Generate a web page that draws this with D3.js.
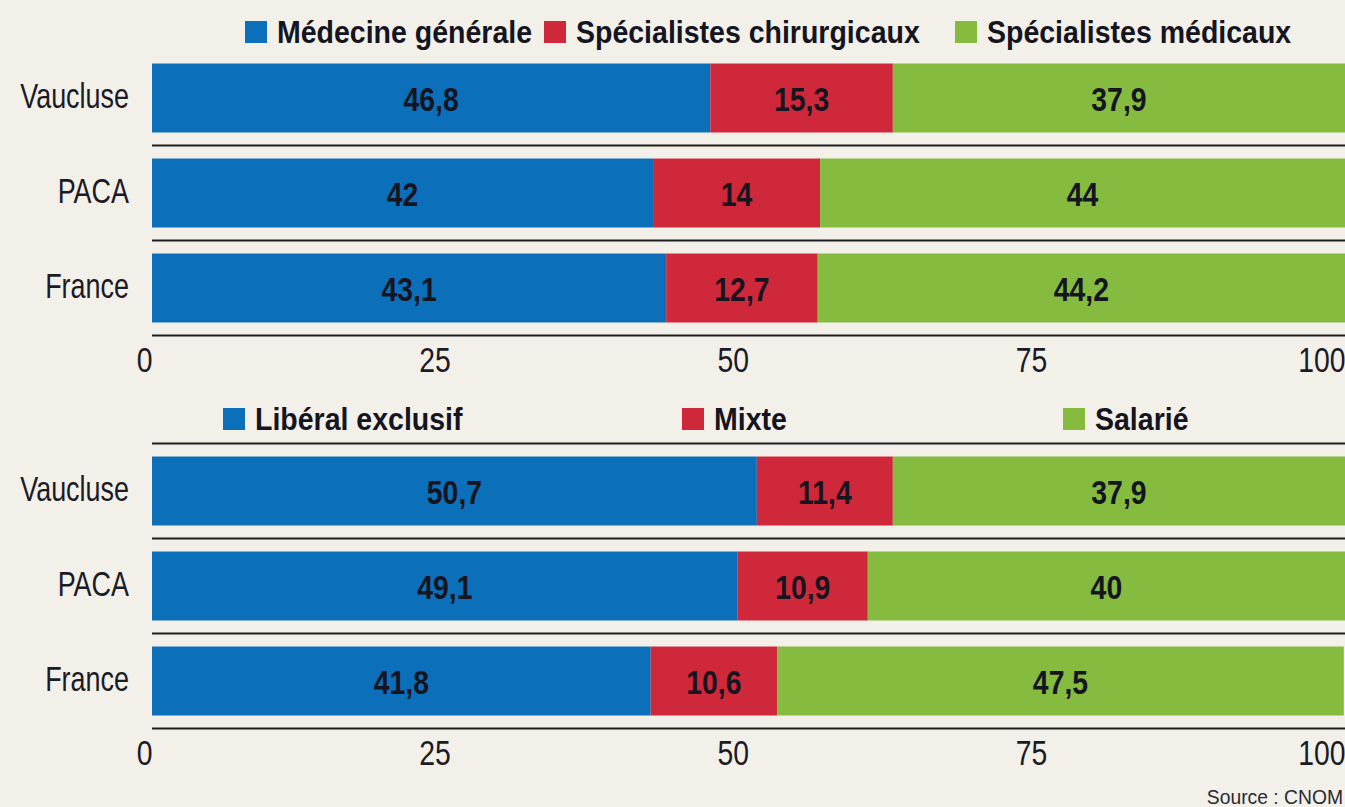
<!DOCTYPE html>
<html>
<head>
<meta charset="utf-8">
<script src="https://cdn.jsdelivr.net/npm/d3@7"></script>
<style>
  body { margin: 0; background: #f3efe9; }
  svg { display: block; font-family: "Liberation Sans", Arial, sans-serif; }
</style>
</head>
<body>
<div id="chart"></div>
<script>
// data
const places = ["Vaucluse", "PACA", "France"];

const specialties = ["Médecine générale", "Spécialistes chirurgicaux", "Spécialistes médicaux"];
const generalistes = [46.8, 42, 43.1];
const chirurgicaux = [15.3, 14, 12.7];
const medicaux = [37.9, 44, 44.2];

const modes = ["Libéral exclusif", "Mixte", "Salarié"];
const liberal = [50.7, 49.1, 41.8];
const mixte = [11.4, 10.9, 10.6];
const salarie = [37.9, 40, 47.5];

const tickValues = [0, 25, 50, 75, 100];
const colors = ["#0b6fb9", "#d0283b", "#85bb3f"];

const width = 1345;
const height = 807;

const svg = d3.select("#chart")
  .append("svg")
  .attr("width", width)
  .attr("height", height);

svg.append("rect")
  .attr("width", width)
  .attr("height", height)
  .attr("fill", "#f3efe9");

const x = d3.scaleLinear()
  .domain([0, 100])
  .range([152, 1345]);

const fmt = v => String(v).replace(".", ",");

// no condensed font installed, so squeeze regular text horizontally
const squeeze = 0.79;

// one panel = legend + stacked bars + axis
function panel(opts) {
  const { keys, series, top, legendY, legendX, topLine } = opts;

  const rows = places.map((p, i) => {
    const r = { place: p };
    keys.forEach((k, j) => r[k] = series[j][i]);
    return r;
  });

  const stack = d3.stack().keys(keys)(rows);

  const y = d3.scaleBand()
    .domain(places)
    .range([top, top + 285])
    .paddingInner(0.274)
    .paddingOuter(0.137);

  const g = svg.append("g");

  // separators
  const lineYs = places.map((p, i) => top + y.step() * (i + 1));
  if (topLine) lineYs.unshift(top);
  g.selectAll("line.sep")
    .data(lineYs)
    .join("line")
    .attr("class", "sep")
    .attr("x1", 152)
    .attr("x2", width)
    .attr("y1", d => d)
    .attr("y2", d => d)
    .attr("stroke", "#1e1e1e")
    .attr("stroke-width", 2);

  // bars
  stack.forEach((layer, j) => {
    const lg = g.append("g").attr("fill", colors[j]);
    lg.selectAll("rect")
      .data(layer)
      .join("rect")
      .attr("x", d => x(d[0]))
      .attr("y", d => y(d.data.place))
      .attr("width", d => x(d[1]) - x(d[0]))
      .attr("height", y.bandwidth());

    g.append("g").selectAll("text")
      .data(layer)
      .join("text")
      .attr("transform", d => `translate(${(x(d[0]) + x(d[1])) / 2},${y(d.data.place) + y.bandwidth() / 2 + 12.5}) scale(0.86,1)`)
      .attr("text-anchor", "middle")
      .attr("font-size", 33)
      .attr("font-weight", "bold")
      .attr("fill", "#15151f")
      .text(d => fmt(d.data[keys[j]]));
  });

  // category labels
  g.append("g").selectAll("text")
    .data(places)
    .join("text")
    .attr("transform", d => `translate(129,${y(d) + y.bandwidth() / 2 + 10}) scale(${squeeze - 0.02},1)`)
    .attr("text-anchor", "end")
    .attr("font-size", 35)
    .attr("fill", "#1b1b26")
    .text(d => d);

  // axis
  const axis = g.append("g")
    .attr("transform", `translate(0,${top + 285})`)
    .call(d3.axisBottom(x).tickValues(tickValues).tickSize(0).tickPadding(0));
  axis.select(".domain").remove();
  axis.selectAll("text")
    .attr("text-anchor", "end")
    .attr("dy", 0)
    .attr("y", 37)
    .attr("transform", `scale(${squeeze + 0.02},1)`)
    .attr("font-size", 35)
    .attr("font-family", null)
    .attr("fill", "#1b1b26");

  // legend
  const leg = g.append("g");
  keys.forEach((k, j) => {
    leg.append("rect")
      .attr("x", legendX[j])
      .attr("y", legendY - 22)
      .attr("width", 22)
      .attr("height", 22)
      .attr("fill", colors[j]);
    leg.append("text")
      .attr("transform", `translate(${legendX[j] + 32},${legendY}) scale(0.92,1)`)
      .attr("font-size", 31)
      .attr("font-weight", "bold")
      .attr("fill", "#15151f")
      .text(k);
  });
}

panel({
  keys: specialties,
  series: [generalistes, chirurgicaux, medicaux],
  top: 50.5,
  legendY: 43,
  legendX: [245, 544, 955],
  topLine: false
});

panel({
  keys: modes,
  series: [liberal, mixte, salarie],
  top: 443.5,
  legendY: 430,
  legendX: [223, 682, 1063],
  topLine: true
});

svg.append("text")
  .attr("transform", "translate(1343,804) scale(0.92,1)")
  .attr("text-anchor", "end")
  .attr("font-size", 21)
  .attr("fill", "#2a2a33")
  .text("Source : CNOM");
</script>
</body>
</html>
